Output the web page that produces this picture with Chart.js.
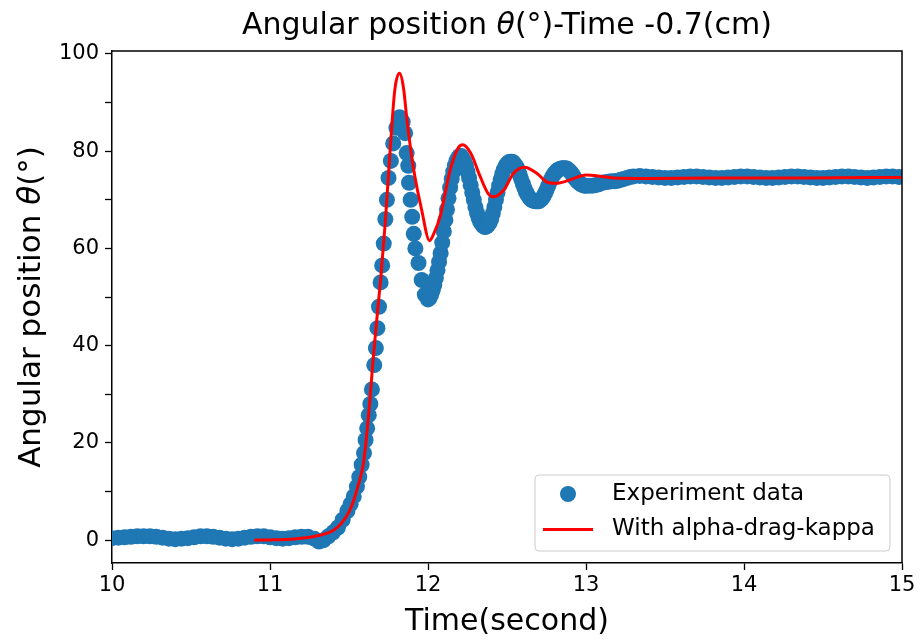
<!DOCTYPE html>
<html>
<head>
<meta charset="utf-8">
<script src="https://cdn.jsdelivr.net/npm/chart.js@4.4.1/dist/chart.umd.min.js"></script>
<style>
    html, body { margin: 0; padding: 0; background: #fff; }
    #wrap { width: 920px; height: 642px; }
</style>
</head>
<body>
<div id="wrap"><canvas id="chart" width="920" height="642"></canvas></div>
<script>
'use strict';

/* ── Data ──────────────────────────────────────────────────── */
// title / axis labels, split so that θ can be drawn in italic like mathtext
const TITLE_PARTS  = ['Angular position ', 'θ', '(°)-Time -0.7(cm)'];
const Y_TITLE_PARTS = ['Angular position ', 'θ', '(°)'];
const X_TITLE = 'Time(second)';

const xTicks      = [10, 11, 12, 13, 14, 15];
const yTicks      = [0, 10, 20, 30, 40, 50, 60, 70, 80, 90, 100];
const yTickLabels = [0, 20, 40, 60, 80, 100];

// Experiment data (seconds, degrees)
const expTime = [
    10.00, 10.04, 10.08, 10.12, 10.16, 10.20, 10.24, 10.28, 10.32, 10.36,
    10.40, 10.44, 10.48, 10.52, 10.56, 10.60, 10.64, 10.68, 10.72, 10.76,
    10.80, 10.84, 10.88, 10.92, 10.96, 11.00, 11.04, 11.08, 11.12, 11.16,
    11.20, 11.24, 11.28, 11.31, 11.34, 11.37, 11.40, 11.43, 11.46, 11.49,
    11.51, 11.53, 11.55, 11.565, 11.58, 11.595, 11.605, 11.615, 11.625, 11.635,
    11.645, 11.66, 11.67, 11.68, 11.69, 11.70, 11.71, 11.72, 11.73, 11.74,
    11.75, 11.765, 11.78, 11.80, 11.82, 11.84, 11.855, 11.865, 11.875, 11.88,
    11.89, 11.90, 11.91, 11.92, 11.94, 11.96, 11.98,
    12.00, 12.01, 12.02, 12.03, 12.04, 12.05, 12.06, 12.07, 12.08, 12.09,
    12.10, 12.11, 12.12, 12.13, 12.14, 12.15, 12.16, 12.17, 12.18, 12.19,
    12.20, 12.21, 12.22, 12.23, 12.24, 12.25, 12.26, 12.27, 12.28, 12.29,
    12.30, 12.31, 12.32, 12.33, 12.34, 12.35, 12.36, 12.37, 12.38, 12.39,
    12.40, 12.41, 12.42, 12.43, 12.44, 12.45, 12.46, 12.47, 12.48, 12.49,
    12.50, 12.51, 12.52, 12.53, 12.54, 12.55, 12.56, 12.57, 12.58, 12.59,
    12.60, 12.61, 12.62, 12.63, 12.64, 12.65, 12.66, 12.67, 12.68, 12.69,
    12.70, 12.71, 12.72, 12.73, 12.74, 12.75, 12.76, 12.77, 12.78, 12.79,
    12.80, 12.81, 12.82, 12.83, 12.84, 12.85, 12.86, 12.87, 12.88, 12.89,
    12.90, 12.91, 12.92, 12.93, 12.94, 12.95, 12.96, 12.97, 12.98, 12.99,
    13.00, 13.02, 13.04, 13.06, 13.08, 13.10, 13.12, 13.14, 13.16, 13.18,
    13.20, 13.22, 13.24, 13.26, 13.28, 13.30, 13.34, 13.38,
    13.42, 13.46, 13.50, 13.54, 13.58, 13.62, 13.66, 13.70, 13.74, 13.78,
    13.82, 13.86, 13.90, 13.94, 13.98, 14.02, 14.06, 14.10, 14.14, 14.18,
    14.22, 14.26, 14.30, 14.34, 14.38, 14.42, 14.46, 14.50, 14.54, 14.58,
    14.62, 14.66, 14.70, 14.74, 14.78, 14.82, 14.86, 14.90, 14.94, 14.98,
    15.02
];
const expAngle = [
    0.4, 0.5, 0.6, 0.7, 0.8, 0.8, 0.8, 0.7, 0.5, 0.3,
    0.2, 0.3, 0.4, 0.6, 0.8, 0.8, 0.7, 0.5, 0.3, 0.2,
    0.3, 0.5, 0.7, 0.8, 0.8, 0.6, 0.4, 0.3, 0.4, 0.6,
    0.7, 0.7, 0.3, -0.3, 0.0, 0.8, 1.6, 2.6, 4.2, 6.0,
    7.4, 9.0, 11.0, 13.0, 15.5, 17.9, 20.6, 23.0, 25.7, 28.0,
    31.0, 36.0, 39.5, 43.6, 48.0, 53.0, 56.5, 61.0, 66.0, 70.0,
    74.5, 78.0, 81.6, 84.8, 87.0, 86.0, 83.7, 79.6, 77.0, 73.5,
    70.0, 66.5, 63.0, 60.0, 57.0, 53.5, 50.5,
    49.5, 49.8, 50.5, 51.4, 52.5, 53.9, 55.5, 57.2, 59.0, 61.2,
    63.5, 65.8, 68.0, 70.3, 72.5, 74.3, 75.8, 77.0, 78.0, 78.6,
    79.0, 79.0, 78.5, 77.9, 77.0, 75.8, 74.5, 73.0, 71.5, 70.0,
    68.5, 67.3, 66.3, 65.5, 65.0, 64.6, 64.4, 64.5, 64.8, 65.3,
    66.0, 67.2, 68.5, 70.0, 71.5, 72.9, 74.2, 75.3, 76.2, 76.9,
    77.4, 77.7, 77.8, 77.8, 77.7, 77.3, 76.8, 76.1, 75.2, 74.2,
    73.3, 72.4, 71.6, 71.0, 70.5, 70.1, 69.9, 69.8, 69.7, 69.7,
    69.7, 69.9, 70.2, 70.7, 71.3, 72.0, 72.8, 73.6, 74.3, 74.9,
    75.4, 75.8, 76.1, 76.3, 76.4, 76.5, 76.5, 76.5, 76.4, 76.1,
    75.8, 75.4, 74.9, 74.4, 74.0, 73.7, 73.4, 73.2, 73.0, 72.9,
    72.9, 72.9, 72.9, 73.0, 73.2, 73.5, 73.6, 73.7, 73.8, 73.8,
    73.9, 74.1, 74.3, 74.5, 74.7, 74.8, 74.9, 74.8,
    74.7, 74.6, 74.5, 74.5, 74.6, 74.7, 74.8, 74.8, 74.7, 74.6,
    74.5, 74.5, 74.6, 74.7, 74.8, 74.8, 74.7, 74.6, 74.5, 74.5,
    74.6, 74.7, 74.8, 74.8, 74.7, 74.6, 74.5, 74.5, 74.6, 74.7,
    74.8, 74.8, 74.7, 74.6, 74.5, 74.6, 74.7, 74.8, 74.8, 74.7,
    74.7
];

// Model curve "With alpha-drag-kappa"
const modelTime = [
    10.90, 11.00, 11.10, 11.20, 11.30, 11.40, 11.45, 11.50, 11.53, 11.56,
    11.59, 11.61, 11.63, 11.655, 11.685, 11.70, 11.73, 11.76, 11.79, 11.82,
    11.845, 11.865, 11.89, 11.917, 11.96, 12.01, 12.04, 12.076, 12.14, 12.19,
    12.22, 12.27, 12.33, 12.38, 12.41, 12.48, 12.54, 12.61, 12.69, 12.75,
    12.81, 12.90, 13.00, 13.10, 13.17, 13.40, 13.80, 14.40, 15.00
];
const modelAngle = [
    0.0, 0.05, 0.15, 0.4, 0.9, 2.0, 3.4, 5.8, 8.2, 11.5,
    15.5, 21.0, 28.0, 38.0, 48.5, 53.5, 65.5, 80.0, 92.6, 96.0,
    93.0, 87.0, 80.5, 74.8, 67.9, 61.6, 63.3, 66.5, 76.1, 80.6,
    81.3, 79.6, 74.8, 71.3, 70.6, 72.0, 75.4, 76.7, 75.4, 73.7,
    73.4, 74.1, 75.1, 74.8, 74.5, 74.4, 74.5, 74.5, 74.6
];

/* ── Drawing ───────────────────────────────────────────────── */
const FONT  = 'DejaVu Sans';
const BLUE  = '#1f77b4';
const RED   = '#ff0000';
const DOT_R = 8;

// draws text pieces in a row, every 2nd piece (θ) in italic
function drawRich(ctx, parts, cx, cy, size) {
    const fonts = parts.map((p, i) => `${i % 2 ? 'italic ' : ''}${size}px "${FONT}"`);
    const widths = parts.map((p, i) => { ctx.font = fonts[i]; return ctx.measureText(p).width; });
    let x = cx - widths.reduce((a, b) => a + b, 0) / 2;
    ctx.textAlign = 'left';
    ctx.textBaseline = 'middle';
    parts.forEach((p, i) => {
        ctx.font = fonts[i];
        ctx.fillText(p, x, cy);
        x += widths[i];
    });
}

// title, y label, and top + right spines (Chart.js only draws the axis borders)
const framePlugin = {
    id: 'frame',
    afterDatasetsDraw(chart) {
        const { ctx, chartArea: a } = chart;
        ctx.save();
        ctx.strokeStyle = '#000';
        ctx.lineWidth = 1.5;
        ctx.beginPath();
        ctx.moveTo(a.left, a.top);
        ctx.lineTo(a.right, a.top);
        ctx.lineTo(a.right, a.bottom);
        ctx.stroke();

        ctx.fillStyle = '#000';
        drawRich(ctx, TITLE_PARTS, (a.left + a.right) / 2, 26, 30);

        ctx.translate(32, (a.top + a.bottom) / 2);
        ctx.rotate(-Math.PI / 2);
        drawRich(ctx, Y_TITLE_PARTS, 0, 0, 31);
        ctx.restore();
    }
};

// matplotlib-like legend in the lower right corner of the axes
const legendPlugin = {
    id: 'mplLegend',
    afterDraw(chart) {
        const { ctx, chartArea: a } = chart;
        const ds = chart.data.datasets;
        const w = 355, h = 76;
        const x0 = a.right - 12 - w, y0 = a.bottom - 12 - h;
        ctx.save();
        ctx.beginPath();
        ctx.roundRect(x0, y0, w, h, 4);
        ctx.fillStyle = 'rgba(255,255,255,0.8)';
        ctx.fill();
        ctx.strokeStyle = '#cccccc';
        ctx.lineWidth = 1;
        ctx.stroke();

        const row1 = y0 + 19, row2 = y0 + 54.5;
        ctx.fillStyle = BLUE;
        ctx.beginPath();
        ctx.arc(x0 + 33, row1, DOT_R, 0, Math.PI * 2);
        ctx.fill();

        ctx.strokeStyle = RED;
        ctx.lineWidth = 3;
        ctx.beginPath();
        ctx.moveTo(x0 + 8, row2);
        ctx.lineTo(x0 + 58, row2);
        ctx.stroke();

        ctx.fillStyle = '#000';
        ctx.font = `23px "${FONT}"`;
        ctx.textBaseline = 'middle';
        ctx.textAlign = 'left';
        ctx.fillText(ds[0].label, x0 + 77, row1);
        ctx.fillText(ds[1].label, x0 + 77, row2);
        ctx.restore();
    }
};

const expPoints   = expTime.map((t, i) => ({ x: t, y: expAngle[i] }));
const modelPoints = modelTime.map((t, i) => ({ x: t, y: modelAngle[i] }));

const axisCommon = {
    border: { display: true, color: '#000', width: 1.5 },
    grid: { display: true, drawOnChartArea: false, drawTicks: true, tickLength: 7, tickColor: '#000', tickWidth: 1.3 },
};

new Chart(document.getElementById('chart'), {
    type: 'scatter',
    data: {
        datasets: [
            {
                label: 'Experiment data',
                data: expPoints,
                backgroundColor: BLUE,
                borderWidth: 0,
                pointRadius: DOT_R,
                pointHoverRadius: DOT_R,
                order: 2,
                clip: 0
            },
            {
                type: 'line',
                label: 'With alpha-drag-kappa',
                data: modelPoints,
                borderColor: RED,
                borderWidth: 3,
                pointRadius: 0,
                fill: false,
                cubicInterpolationMode: 'monotone',
                order: 1,
                clip: 0
            }
        ]
    },
    options: {
        responsive: false,
        devicePixelRatio: 1,
        animation: false,
        events: [],
        layout: { padding: { left: 0, right: 18, top: 51, bottom: 0 } },
        plugins: {
            legend: { display: false },
            tooltip: { enabled: false },
            title: { display: false }
        },
        scales: {
            x: {
                ...axisCommon,
                type: 'linear',
                min: 10,
                max: 15,
                afterBuildTicks: s => { s.ticks = xTicks.map(v => ({ value: v })); },
                afterFit: s => { s.height = 79; s.paddingLeft = 0; s.paddingRight = 0; },
                ticks: { color: '#000', padding: 3, maxRotation: 0, font: { family: FONT, size: 21 } },
                title: {
                    display: true,
                    text: X_TITLE,
                    color: '#000',
                    font: { family: FONT, size: 30, lineHeight: 1.2 },
                    padding: { top: 0, bottom: 2 }
                }
            },
            y: {
                ...axisCommon,
                type: 'linear',
                min: -4.7,
                max: 100.6,
                afterBuildTicks: s => { s.ticks = yTicks.map(v => ({ value: v })); },
                afterFit: s => { s.width = 112; s.paddingTop = 0; s.paddingBottom = 0; },
                ticks: {
                    color: '#000',
                    padding: 6,
                    font: { family: FONT, size: 21 },
                    callback: v => (yTickLabels.includes(v) ? String(v) : '')
                }
            }
        }
    },
    plugins: [framePlugin, legendPlugin]
});
</script>
</body>
</html>
